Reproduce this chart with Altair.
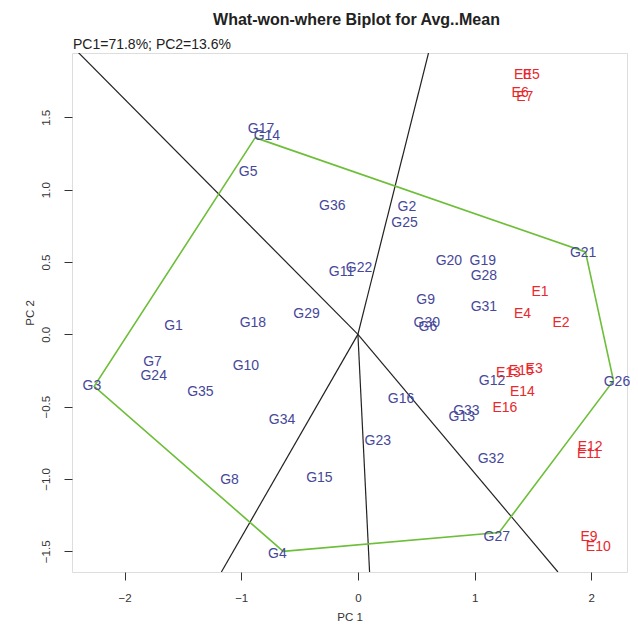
import altair as alt
import pandas as pd

# ---- data ----
g_names = ["G1","G2","G3","G4","G5","G6","G7","G8","G9","G10","G11","G12","G13","G14","G15","G16","G17","G18",
           "G19","G20","G21","G22","G23","G24","G25","G26","G27","G28","G29","G30","G31","G32","G33","G34","G35","G36"]
g_x = [-1.58, 0.42, -2.28, -0.69, -0.94, 0.60, -1.76, -1.10, 0.58, -0.96, -0.14, 1.15, 0.89, -0.78, -0.33, 0.37, -0.83, -0.90,
       1.07, 0.78, 1.93, 0.01, 0.17, -1.75, 0.40, 2.22, 1.19, 1.08, -0.44, 0.59, 1.08, 1.14, 0.93, -0.65, -1.35, -0.22]
g_y = [0.06, 0.88, -0.36, -1.52, 1.12, 0.05, -0.19, -1.01, 0.24, -0.22, 0.43, -0.32, -0.57, 1.37, -0.99, -0.45, 1.42, 0.08,
       0.51, 0.51, 0.56, 0.46, -0.74, -0.29, 0.77, -0.33, -1.40, 0.40, 0.14, 0.08, 0.19, -0.86, -0.53, -0.59, -0.40, 0.89]

e_names = ["E1","E2","E3","E4","E5","E6","E7","E8","E9","E10","E11","E12","E13","E14","E15","E16"]
e_x = [1.56, 1.74, 1.51, 1.41, 1.485, 1.39, 1.43, 1.41, 1.98, 2.06, 1.98, 1.99, 1.29, 1.41, 1.40, 1.26]
e_y = [0.29, 0.08, -0.24, 0.14, 1.79, 1.67, 1.64, 1.79, -1.40, -1.47, -0.83, -0.78, -0.27, -0.40, -0.25, -0.51]

# convex hull (polygon) vertices: G14, G21, G26, G27, G4, G3, back to G14
hull_x = [-0.88, 1.95, 2.19, 1.21, -0.64, -2.26, -0.88]
hull_y = [1.36, 0.57, -0.32, -1.37, -1.50, -0.36, 1.36]

# sector rays from the origin (end points at the frame)
ray_x = [-2.41, 0.605, 0.10, 1.714, -1.17]
ray_y = [1.96, 1.945, -1.643, -1.643, -1.643]

x_ticks = [-2, -1, 0, 1, 2]
y_ticks = [-1.5, -1.0, -0.5, 0.0, 0.5, 1.0, 1.5]
x_domain = [-2.45, 2.306]
y_domain = [-1.643, 1.945]

FONT = "Liberation Sans"
G_COL = "#46479A"
E_COL = "#E8282C"
GREEN = "#6DBE38"

gdf = pd.DataFrame({"name": g_names, "x": g_x, "y": g_y})
edf = pd.DataFrame({"name": e_names, "x": e_x, "y": e_y})
hdf = pd.DataFrame({"x": hull_x, "y": hull_y, "o": list(range(len(hull_x)))})
rdf = pd.DataFrame({"x0": [0.0] * len(ray_x), "y0": [0.0] * len(ray_x), "x": ray_x, "y": ray_y})

xs = alt.Scale(domain=x_domain, nice=False, zero=False)
ys = alt.Scale(domain=y_domain, nice=False, zero=False)

xax = alt.Axis(values=x_ticks, title="PC 1", format="d", grid=False, domain=False,
               tickSize=8, tickColor="#333", labelPadding=12, labelFontSize=11.5, labelFont=FONT,
               labelColor="#333", titleFont=FONT, titleFontSize=11.5, titleFontWeight="normal",
               titleColor="#333", titlePadding=8)
yax = alt.Axis(values=y_ticks, title="PC 2", format=".1f", grid=False, domain=False,
               tickSize=8, tickColor="#333", labelPadding=13, labelFontSize=11.5, labelFont=FONT,
               labelColor="#333", labelAngle=-90, titleFont=FONT, titleFontSize=11.5,
               titleFontWeight="normal", titleColor="#333", titlePadding=5)

base_axes = alt.Chart(gdf).mark_point(opacity=0).encode(
    x=alt.X("x:Q", scale=xs, axis=xax),
    y=alt.Y("y:Q", scale=ys, axis=yax),
)

rays = alt.Chart(rdf).mark_rule(color="#222", strokeWidth=1.2, clip=True).encode(
    x=alt.X("x0:Q", scale=xs), y=alt.Y("y0:Q", scale=ys), x2="x:Q", y2="y:Q"
)

hull = alt.Chart(hdf).mark_line(color=GREEN, strokeWidth=1.6, clip=True).encode(
    x=alt.X("x:Q", scale=xs), y=alt.Y("y:Q", scale=ys), order="o:Q"
)

gtext = alt.Chart(gdf).mark_text(font=FONT, fontSize=14, color=G_COL).encode(
    x=alt.X("x:Q", scale=xs), y=alt.Y("y:Q", scale=ys), text="name:N"
)
etext = alt.Chart(edf).mark_text(font=FONT, fontSize=14, color=E_COL).encode(
    x=alt.X("x:Q", scale=xs), y=alt.Y("y:Q", scale=ys), text="name:N"
)

pc_note = alt.Chart(pd.DataFrame({"t": ["PC1=71.8%; PC2=13.6%"]})).mark_text(
    font=FONT, fontSize=14, color="#222", align="left", baseline="bottom"
).encode(x=alt.value(1), y=alt.value(-1), text="t:N")

chart = alt.layer(base_axes, rays, hull, gtext, etext, pc_note).properties(
    width=555, height=519,
    title=alt.TitleParams("What-won-where Biplot for Avg..Mean", font=FONT, fontSize=16,
                          fontWeight="bold", color="#222", anchor="middle", offset=10, dx=7),
    autosize=alt.AutoSizeParams(type="none"),
    padding={"left": 64, "top": 45, "right": 3, "bottom": 54},
).configure_view(stroke="#333", strokeWidth=1.2).configure(background="white")

chart.save("out.html", embed_options={"renderer": "svg", "actions": False})
